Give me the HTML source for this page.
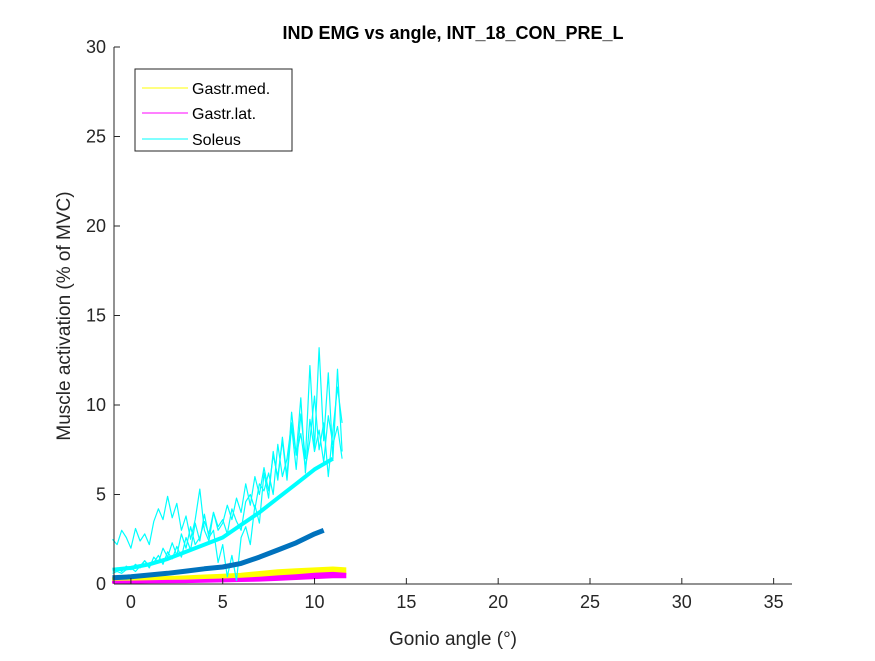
<!DOCTYPE html>
<html><head><meta charset="utf-8"><style>
body{margin:0;background:#fff;}
svg text{font-family:"Liberation Sans",Arial,sans-serif;}
</style></head><body>
<svg id="chart" width="875" height="656" xmlns="http://www.w3.org/2000/svg">
<rect width="875" height="656" fill="#fff"/>
<text x="453" y="39" text-anchor="middle" font-size="18" font-weight="bold">IND EMG vs angle, INT_18_CON_PRE_L</text>
<g id="plot"></g>
<g id="axes"></g>
<text x="453" y="645" text-anchor="middle" font-size="19" fill="#262626">Gonio angle (°)</text>
<text transform="translate(70,316) rotate(-90)" text-anchor="middle" font-size="19" fill="#262626">Muscle activation (% of MVC)</text>
<g>
<rect x="135" y="69" width="157" height="82" fill="#fff" stroke="#262626" stroke-width="1"/>
<line x1="142" y1="88" x2="188" y2="88" stroke="#ffff00" stroke-width="1"/>
<text x="192" y="94" font-size="16">Gastr.med.</text>
<line x1="142" y1="113" x2="188" y2="113" stroke="#ff00ff" stroke-width="1"/>
<text x="192" y="119" font-size="16">Gastr.lat.</text>
<line x1="142" y1="139" x2="188" y2="139" stroke="#00ffff" stroke-width="1"/>
<text x="192" y="145" font-size="16">Soleus</text>
</g>
</svg>
<script>
const xTicks=[0,5,10,15,20,25,30,35];
const yTicks=[0,5,10,15,20,25,30];
const noisyX0=-1, noisyStep=0.25;
const soleusNoisy1=[2.5,2.2,3.0,2.6,2.0,3.1,2.4,2.8,2.2,3.5,4.2,3.6,4.9,3.7,4.5,3.0,3.8,2.5,3.6,5.3,3.0,2.4,4.0,3.2,3.6,2.8,4.2,3.5,3.0,4.6,5.0,4.2,5.6,5.2,6.2,5.0,7.8,6.0,7.0,9.0,7.2,8.4,6.5,8.0,10.5,7.5,9.0,6.0,8.6,11.0,9.0];
const soleusNoisy2=[0.6,0.7,0.6,0.8,0.9,0.7,1.0,1.3,0.9,1.5,1.2,2.0,1.5,2.3,1.6,2.8,2.0,3.2,2.2,2.6,3.5,2.8,4.0,3.0,3.4,4.4,3.6,4.8,4.0,5.6,4.4,6.0,5.0,6.5,5.2,7.2,6.0,8.0,5.8,8.8,6.4,9.5,7.0,12.2,7.6,13.2,8.0,11.8,7.0,12.0,7.4];
const soleusNoisy3=[0.8,0.9,0.7,1.0,0.8,1.1,0.9,1.3,1.0,1.2,1.6,1.1,1.8,1.4,2.1,1.5,2.6,1.9,3.4,2.4,3.9,2.6,3.0,1.2,2.2,0.4,1.6,0.2,2.6,3.2,2.2,4.4,3.4,6.2,4.8,7.4,5.8,8.2,6.0,9.6,7.2,10.4,6.2,9.2,7.4,8.6,6.8,9.4,7.8,8.8,7.0];
const meanX=[-1,0,1,2,3,4,5,6,7,8,9,10,11];
const soleusMean=[0.8,0.9,1.1,1.4,1.8,2.2,2.6,3.3,4.0,4.8,5.6,6.4,7.0];
const blueX=[-1,0,1,2,3,4,5,6,7,8,9,10,10.5];
const blueMean=[0.35,0.4,0.5,0.6,0.72,0.85,0.95,1.15,1.5,1.9,2.3,2.8,3.0];
const bandX=[-1,0,1,2,3,4,5,6,7,8,9,10,11,11.7];
const medLow=[0.2,0.2,0.22,0.25,0.28,0.3,0.32,0.35,0.38,0.4,0.45,0.5,0.55,0.55];
const medHigh=[0.35,0.38,0.4,0.42,0.45,0.5,0.55,0.6,0.7,0.8,0.85,0.9,0.95,0.9];
const latLow=[0.05,0.05,0.06,0.07,0.08,0.1,0.12,0.14,0.16,0.2,0.25,0.3,0.35,0.35];
const latHigh=[0.15,0.16,0.18,0.2,0.22,0.25,0.28,0.32,0.38,0.45,0.52,0.6,0.65,0.6];
const X0=114,X1=792,Y0=584,Y1=47,xmin=-0.92,xmax=36,ymin=0,ymax=30;
const sx=v=>X0+(v-xmin)/(xmax-xmin)*(X1-X0);
const sy=v=>Y0-(v-ymin)/(ymax-ymin)*(Y0-Y1);
const NS="http://www.w3.org/2000/svg";
const plot=document.getElementById('plot'), axes=document.getElementById('axes');
function mk(t,a,p){const e=document.createElementNS(NS,t);for(const k in a)e.setAttribute(k,a[k]);p.appendChild(e);return e;}
function line(xs,ys,color,w,name){const d=xs.map((x,i)=>(i?'L':'M')+sx(x).toFixed(1)+','+sy(ys[i]).toFixed(1)).join('');const e=mk('path',{d:d,fill:'none',stroke:color,'stroke-width':w,'stroke-linejoin':'round'},plot);

}
function band(xs,lo,hi,color,name){let d=xs.map((x,i)=>(i?'L':'M')+sx(x).toFixed(1)+','+sy(hi[i]).toFixed(1)).join('');for(let i=xs.length-1;i>=0;i--)d+='L'+sx(xs[i]).toFixed(1)+','+sy(lo[i]).toFixed(1);d+='Z';const e=mk('path',{d:d,fill:color,stroke:color,'stroke-width':1},plot);

}
const nx=a=>a.map((_,i)=>noisyX0+i*noisyStep);
band(bandX,medLow,medHigh,'#ffff00','gastr-med-band');
band(bandX,latLow,latHigh,'#ff00ff','gastr-lat-band');
line(nx(soleusNoisy1),soleusNoisy1,'#00ffff',1.2,'soleus-trace-1');
line(nx(soleusNoisy2),soleusNoisy2,'#00ffff',1.2,'soleus-trace-2');
line(nx(soleusNoisy3),soleusNoisy3,'#00ffff',1.2,'soleus-trace-3');
line(meanX,soleusMean,'#00ffff',4,'soleus-mean');
line(blueX,blueMean,'#0072bd',5,'blue-mean');
mk('line',{x1:X0,y1:Y0,x2:X1,y2:Y0,stroke:'#262626','stroke-width':1},axes);
mk('line',{x1:X0,y1:Y0,x2:X0,y2:Y1,stroke:'#262626','stroke-width':1},axes);
xTicks.forEach(v=>{mk('line',{x1:sx(v),y1:Y0,x2:sx(v),y2:Y0-6,stroke:'#262626'},axes);const t=mk('text',{x:sx(v),y:Y0+24,'text-anchor':'middle','font-size':18,fill:'#262626'},axes);t.textContent=v;

});
yTicks.forEach(v=>{mk('line',{x1:X0,y1:sy(v),x2:X0+6,y2:sy(v),stroke:'#262626'},axes);const t=mk('text',{x:X0-8,y:sy(v)+6,'text-anchor':'end','font-size':18,fill:'#262626'},axes);t.textContent=v;

});
</script>
</body></html>
